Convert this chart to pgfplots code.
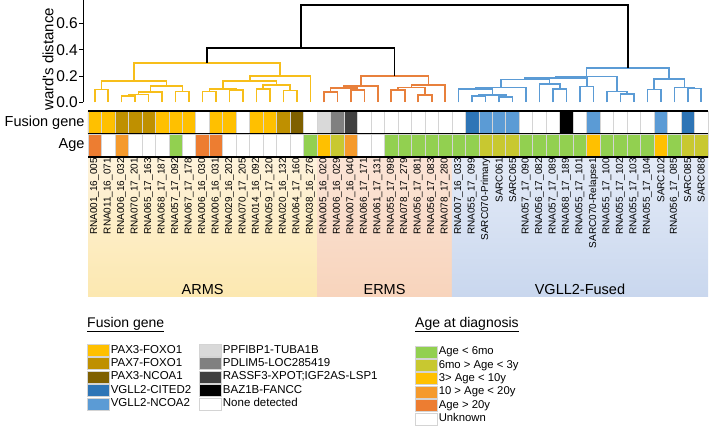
\documentclass[border=0pt]{standalone}
\usepackage{fontspec}
\setmainfont{Liberation Sans}
\newfontfamily\rawfont{Liberation Sans}
\usepackage{pgfplots}
\pgfplotsset{compat=1.18}
\definecolor{armsc}{HTML}{F7BE1A}
\definecolor{ermsc}{HTML}{E8803C}
\definecolor{vgllc}{HTML}{5B9BD5}
\definecolor{fpaxthree}{HTML}{FFC000}
\definecolor{fpaxseven}{HTML}{BF9000}
\definecolor{fncoa}{HTML}{7F6000}
\definecolor{fcited}{HTML}{2E75B6}
\definecolor{fncoatwo}{HTML}{5B9BD5}
\definecolor{fppf}{HTML}{D9D9D9}
\definecolor{fpdl}{HTML}{808080}
\definecolor{fras}{HTML}{404040}
\definecolor{fbaz}{HTML}{000000}
\definecolor{aone}{HTML}{92D050}
\definecolor{atwo}{HTML}{C8C830}
\definecolor{athree}{HTML}{FFC000}
\definecolor{afour}{HTML}{F59A2C}
\definecolor{afive}{HTML}{ED7D31}
\definecolor{cellgrid}{HTML}{D4D4D4}
\definecolor{armsbgT}{HTML}{FEF3DC}
\definecolor{armsbgB}{HTML}{FCE8B0}
\definecolor{ermsbgT}{HTML}{FBE4D6}
\definecolor{ermsbgB}{HTML}{F8D4BC}
\definecolor{vgllbgT}{HTML}{E4EBF7}
\definecolor{vgllbgB}{HTML}{C9D7EE}
\pgfplotsset{
  cell/.style={ybar, bar width=1, bar shift=0pt, draw=cellgrid, line width=0.7pt,
    legend image code/.code={\draw[##1, draw=cellgrid, line width=0.6pt] (0pt,-6pt) rectangle (22pt,6pt);}},
  dend/.style={line width=1.6pt, no marks},
}
\begin{document}
\begin{tikzpicture}
\useasboundingbox (0pt,0pt) rectangle (709pt,-427pt);

% background group shading
\begin{axis}[
  at={(88pt,-297pt)}, anchor=south west, scale only axis,
  width=620pt, height=140pt,
  xmin=0.5, xmax=46.5, ymin=0, ymax=1, hide axis, clip=false,
]
\addplot[draw=none, top color=armsbgT, bottom color=armsbgB] coordinates {(0.5,0)(17.5,0)(17.5,1)(0.5,1)} -- cycle;
\addplot[draw=none, top color=ermsbgT, bottom color=ermsbgB] coordinates {(17.5,0)(27.5,0)(27.5,1)(17.5,1)} -- cycle;
\addplot[draw=none, top color=vgllbgT, bottom color=vgllbgB] coordinates {(27.5,0)(46.5,0)(46.5,1)(27.5,1)} -- cycle;
\node[anchor=base, font=\fontsize{14.5}{14.5}\selectfont] at (axis cs:9,0.018) {ARMS};
\node[anchor=base, font=\fontsize{14.5}{14.5}\selectfont] at (axis cs:22.5,0.018) {ERMS};
\node[anchor=base, font=\fontsize{14.5}{14.5}\selectfont] at (axis cs:37,0.018) {VGLL2-Fused};
\end{axis}

% dendrogram
\begin{axis}[
  at={(83pt,-102.3pt)}, anchor=south west, scale only axis,
  width=625pt, height=102.3pt,
  xmin=0.129, xmax=46.5, ymin=0, ymax=0.778,
  axis x line=none, axis y line*=left,
  axis line style={line width=0.9pt},
  ytick={0,0.2,0.4,0.6}, yticklabels={0.0,0.2,0.4,0.6},
  tick align=outside, major tick length=4pt,
  tick style={black, line width=0.9pt},
  yticklabel style={font=\fontsize{15.5}{15.5}\selectfont, inner sep=1pt},
  ylabel={{\rawfont ward's distance}},
  ylabel style={font=\fontsize{15}{15}\selectfont, at={(axis description cs:-0.056,0.42)}, anchor=center},
  clip=false, unbounded coords=jump,
]
\addplot[dend, draw=armsc] coordinates {
(1,0)(1,.097)(2,.097)(2,0) (nan,nan)
(3,0)(3,.047)(4,.047)(4,0) (nan,nan)
(3.5,.047)(3.5,.06)(5,.06)(5,0) (nan,nan)
(4.25,.06)(4.25,.08)(6,.08)(6,0) (nan,nan)
(7,0)(7,.081)(8,.081)(8,0) (nan,nan)
(5.125,.08)(5.125,.124)(7.5,.124)(7.5,.081) (nan,nan)
(1.5,.097)(1.5,.163)(6.3125,.163)(6.3125,.124) (nan,nan)
(9,0)(9,.081)(10,.081)(10,0) (nan,nan)
(11,0)(11,.094)(12,.094)(12,0) (nan,nan)
(9.5,.081)(9.5,.099)(11.5,.099)(11.5,.094) (nan,nan)
(13,0)(13,.1)(14,.1)(14,0) (nan,nan)
(15,0)(15,.09)(16,.09)(16,0) (nan,nan)
(13.5,.1)(13.5,.132)(15.5,.132)(15.5,.09) (nan,nan)
(10.5,.099)(10.5,.162)(14.5,.162)(14.5,.132) (nan,nan)
(12.5,.162)(12.5,.201)(17,.201)(17,0) (nan,nan)
(3.906,.163)(3.906,.30)(14.75,.30)(14.75,.201)
};
\addplot[dend, draw=ermsc] coordinates {
(18,0)(18,.08)(19,.08)(19,0) (nan,nan)
(20,0)(20,.094)(21,.094)(21,0) (nan,nan)
(18.5,.08)(18.5,.111)(20.5,.111)(20.5,.094) (nan,nan)
(19.5,.111)(19.5,.124)(22,.124)(22,0) (nan,nan)
(23,0)(23,.094)(24,.094)(24,0) (nan,nan)
(25,0)(25,.056)(26,.056)(26,0) (nan,nan)
(23.5,.094)(23.5,.114)(25.5,.114)(25.5,.056) (nan,nan)
(24.5,.114)(24.5,.132)(27,.132)(27,0) (nan,nan)
(20.75,.124)(20.75,.2)(25.75,.2)(25.75,.132)
};
\addplot[dend, draw=vgllc] coordinates {
(29,0)(29,.048)(30,.048)(30,0) (nan,nan)
(31,0)(31,.04)(32,.04)(32,0) (nan,nan)
(29.5,.048)(29.5,.056)(31.5,.056)(31.5,.04) (nan,nan)
(28,0)(28,.1)(30.5,.1)(30.5,.056) (nan,nan)
(29.25,.1)(29.25,.114)(33,.114)(33,0) (nan,nan)
(35,0)(35,.1)(36,.1)(36,0) (nan,nan)
(34,0)(34,.139)(35.5,.139)(35.5,.1) (nan,nan)
(31.125,.114)(31.125,.172)(34.75,.172)(34.75,.139) (nan,nan)
(37,0)(37,.119)(38,.119)(38,0) (nan,nan)
(32.94,.172)(32.94,.185)(37.5,.185)(37.5,.119) (nan,nan)
(40,0)(40,.064)(41,.064)(41,0) (nan,nan)
(39,0)(39,.082)(40.5,.082)(40.5,.064) (nan,nan)
(35.22,.185)(35.22,.197)(39.75,.197)(39.75,.082) (nan,nan)
(42,0)(42,.098)(43,.098)(43,0) (nan,nan)
(45,0)(45,.106)(46,.106)(46,0) (nan,nan)
(44,0)(44,.113)(45.5,.113)(45.5,.106) (nan,nan)
(42.5,.098)(42.5,.177)(44.75,.177)(44.75,.113) (nan,nan)
(37.485,.197)(37.485,.263)(43.625,.263)(43.625,.177)
};
\addplot[dend, draw=black] coordinates {
(9.328,.30)(9.328,.415)(23.25,.415)(23.25,.2) (nan,nan)
(16.289,.415)(16.289,.74)(40.555,.74)(40.555,.263)
};
\end{axis}

% fusion gene row
\begin{axis}[
  at={(88pt,-134pt)}, anchor=south west, scale only axis,
  width=620pt, height=23pt,
  xmin=0.5, xmax=46.5, ymin=0, ymax=1,
  axis line style={draw=none}, xtick=\empty, ytick={0.5}, yticklabels={Fusion gene},
  major tick length=0pt, yticklabel style={font=\fontsize{14.5}{14.5}\selectfont},
  legend columns=2, legend cell align=left,
  legend style={at={(-0.0016,-9.1)}, anchor=north west, draw=none, fill=none, inner sep=0pt,
    row sep=0pt, font=\fontsize{11.5}{11.5}\selectfont,
    nodes={inner sep=1pt, text height=8.5pt, text depth=2.9pt},
    /tikz/every even column/.append style={column sep=7pt}},
  clip=false,
]
\addplot[cell, fill=fpaxthree] coordinates {(1,1)(2,1)(6,1)(7,1)(8,1)(10,1)(11,1)(13,1)(14,1)};
\addlegendentry{PAX3-FOXO1}
\addplot[cell, fill=fppf] coordinates {(18,1)};
\addlegendentry{PPFIBP1-TUBA1B}
\addplot[cell, fill=fpaxseven] coordinates {(3,1)(4,1)(5,1)(15,1)};
\addlegendentry{PAX7-FOXO1}
\addplot[cell, fill=fpdl] coordinates {(19,1)};
\addlegendentry{PDLIM5-LOC285419}
\addplot[cell, fill=fncoa] coordinates {(16,1)};
\addlegendentry{PAX3-NCOA1}
\addplot[cell, fill=fras] coordinates {(20,1)};
\addlegendentry{RASSF3-XPOT;IGF2AS-LSP1}
\addplot[cell, fill=fcited] coordinates {(29,1)(45,1)};
\addlegendentry{VGLL2-CITED2}
\addplot[cell, fill=fbaz] coordinates {(36,1)};
\addlegendentry{BAZ1B-FANCC}
\addplot[cell, fill=fncoatwo] coordinates {(30,1)(31,1)(32,1)(38,1)(43,1)};
\addlegendentry{VGLL2-NCOA2}
\addplot[cell, fill=white] coordinates {(9,1)(12,1)(17,1)(21,1)(22,1)(23,1)(24,1)(25,1)(26,1)(27,1)(28,1)(33,1)(34,1)(35,1)(37,1)(39,1)(40,1)(41,1)(42,1)(44,1)(46,1)};
\addlegendentry{None detected}
\addplot[black, line width=1.3pt, forget plot] coordinates {(0.5,1)(46.5,1)};
\addplot[black, line width=1.3pt, forget plot] coordinates {(0.5,0)(46.5,0)};
\end{axis}

% age row
\begin{axis}[
  at={(88pt,-157pt)}, anchor=south west, scale only axis,
  width=620pt, height=23pt,
  xmin=0.5, xmax=46.5, ymin=0, ymax=1,
  axis line style={draw=none}, ytick={0.5}, yticklabels={Age},
  major tick length=0pt, yticklabel style={font=\fontsize{14.5}{14.5}\selectfont},
  xtick={1,...,46},
  xticklabels={RNA001\_16\_005,RNA011\_16\_071,RNA006\_16\_032,RNA070\_17\_201,RNA065\_17\_163,RNA068\_17\_187,RNA057\_17\_092,RNA067\_17\_178,RNA006\_16\_030,RNA006\_16\_031,RNA029\_16\_202,RNA070\_17\_205,RNA014\_16\_092,RNA059\_17\_120,RNA020\_16\_132,RNA064\_17\_160,RNA038\_16\_276,RNA005\_16\_020,RNA006\_16\_029,RNA007\_16\_040,RNA066\_17\_171,RNA061\_17\_131,RNA055\_17\_098,RNA078\_17\_279,RNA056\_17\_081,RNA056\_17\_083,RNA078\_17\_280,RNA007\_16\_033,RNA055\_17\_099,SARC070-Primary,SARC061,SARC065,RNA057\_17\_090,RNA056\_17\_082,RNA057\_17\_089,RNA068\_17\_189,RNA055\_17\_101,SARC070-Relapse1,RNA055\_17\_100,RNA055\_17\_102,RNA055\_17\_103,RNA055\_17\_104,SARC102,RNA056\_17\_085,SARC085,SARC088},
  xticklabel style={rotate=90, anchor=east, font=\fontsize{10}{10}\selectfont, inner sep=1pt},
  legend cell align=left,
  legend style={at={(0.5274,-8.17)}, anchor=north west, draw=none, fill=none, inner sep=0pt,
    row sep=0pt, font=\fontsize{11.3}{11.3}\selectfont,
    nodes={inner sep=1pt, text height=8.5pt, text depth=2.9pt}},
  clip=false,
]
\addplot[cell, fill=aone] coordinates {(7,1)(17,1)(23,1)(24,1)(25,1)(26,1)(27,1)(28,1)(29,1)(33,1)(34,1)(35,1)(36,1)(37,1)(39,1)(40,1)(41,1)(42,1)(44,1)};
\addlegendentry{Age < 6mo}
\addplot[cell, fill=atwo] coordinates {(19,1)(30,1)(31,1)(32,1)(45,1)(46,1)};
\addlegendentry{6mo > Age < 3y}
\addplot[cell, fill=athree] coordinates {(18,1)(38,1)(43,1)};
\addlegendentry{3> Age < 10y}
\addplot[cell, fill=afour] coordinates {(3,1)(20,1)};
\addlegendentry{10 > Age < 20y}
\addplot[cell, fill=afive] coordinates {(1,1)(9,1)(10,1)};
\addlegendentry{Age > 20y}
\addplot[cell, fill=white] coordinates {(2,1)(4,1)(5,1)(6,1)(8,1)(11,1)(12,1)(13,1)(14,1)(15,1)(16,1)(21,1)(22,1)};
\addlegendentry{Unknown}
\addplot[black, line width=1.3pt, forget plot] coordinates {(0.5,0)(46.5,0)};
\end{axis}

\node[anchor=base west, font=\fontsize{14}{14}\selectfont, inner sep=0pt] at (87pt,-327pt) {\underline{Fusion gene}};
\node[anchor=base west, font=\fontsize{14}{14}\selectfont, inner sep=0pt] at (415pt,-327pt) {\underline{Age at diagnosis}};
\end{tikzpicture}
\end{document}
